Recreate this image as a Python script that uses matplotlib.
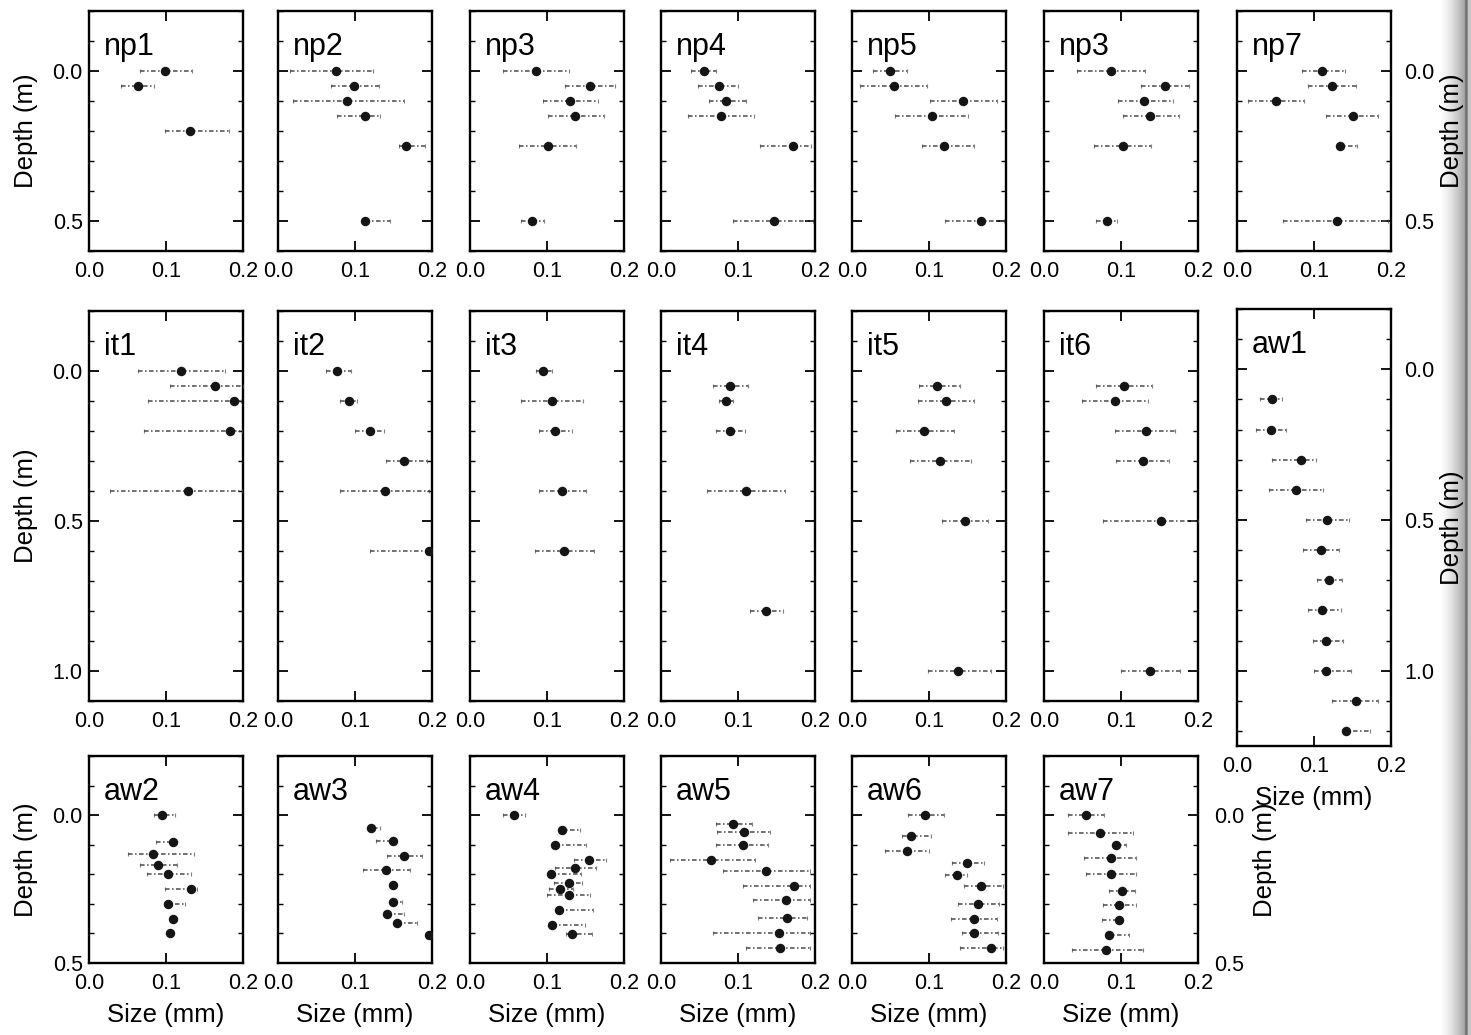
import numpy as np
import matplotlib
matplotlib.use("Agg")
import matplotlib.pyplot as plt
from matplotlib.ticker import MultipleLocator, FixedLocator, FormatStrFormatter

plt.rcParams['font.family'] = ['Liberation Sans', 'DejaVu Sans']

# ---------------- data (size in mm, depth in m) ----------------
np1_depth = [0.0, 0.05, 0.2]
np1_size = [0.099, 0.063, 0.131]
np1_lo = [0.066, 0.042, 0.099]
np1_hi = [0.134, 0.084, 0.182]

np2_depth = [0.0, 0.05, 0.1, 0.15, 0.25, 0.5]
np2_size = [0.075, 0.099, 0.090, 0.113, 0.166, 0.113]
np2_lo = [0.015, 0.069, 0.019, 0.077, 0.157, 0.113]
np2_hi = [0.123, 0.131, 0.163, 0.133, 0.191, 0.146]

np3_depth = [0.0, 0.05, 0.1, 0.15, 0.25, 0.5]
np3_size = [0.086, 0.156, 0.130, 0.137, 0.101, 0.081]
np3_lo = [0.043, 0.124, 0.095, 0.101, 0.064, 0.066]
np3_hi = [0.129, 0.188, 0.166, 0.174, 0.138, 0.096]

np4_depth = [0.0, 0.05, 0.1, 0.15, 0.25, 0.5]
np4_size = [0.056, 0.075, 0.085, 0.078, 0.171, 0.147]
np4_lo = [0.039, 0.048, 0.062, 0.035, 0.129, 0.094]
np4_hi = [0.072, 0.100, 0.111, 0.121, 0.195, 0.198]

np5_depth = [0.0, 0.05, 0.1, 0.15, 0.25, 0.5]
np5_size = [0.049, 0.054, 0.144, 0.104, 0.119, 0.168]
np5_lo = [0.027, 0.010, 0.101, 0.056, 0.091, 0.121]
np5_hi = [0.071, 0.098, 0.188, 0.151, 0.158, 0.198]

np6_depth = [0.0, 0.05, 0.1, 0.15, 0.25, 0.5]
np6_size = [0.087, 0.157, 0.130, 0.138, 0.102, 0.082]
np6_lo = [0.043, 0.126, 0.096, 0.103, 0.065, 0.067]
np6_hi = [0.131, 0.188, 0.167, 0.175, 0.139, 0.095]

np7_depth = [0.0, 0.05, 0.1, 0.15, 0.25, 0.5]
np7_size = [0.111, 0.123, 0.050, 0.150, 0.134, 0.130]
np7_lo = [0.084, 0.092, 0.014, 0.116, 0.130, 0.060]
np7_hi = [0.140, 0.154, 0.087, 0.183, 0.156, 0.196]

it1_depth = [0.0, 0.05, 0.1, 0.2, 0.4]
it1_size = [0.119, 0.163, 0.188, 0.183, 0.129]
it1_lo = [0.063, 0.105, 0.076, 0.071, 0.027]
it1_hi = [0.176, 0.200, 0.197, 0.199, 0.199]

it2_depth = [0.0, 0.1, 0.2, 0.3, 0.4, 0.6]
it2_size = [0.077, 0.092, 0.119, 0.164, 0.139, 0.196]
it2_lo = [0.062, 0.080, 0.100, 0.140, 0.080, 0.120]
it2_hi = [0.095, 0.103, 0.138, 0.194, 0.196, 0.199]

it3_depth = [0.0, 0.1, 0.2, 0.4, 0.6]
it3_size = [0.095, 0.106, 0.110, 0.120, 0.122]
it3_lo = [0.086, 0.066, 0.089, 0.089, 0.084]
it3_hi = [0.107, 0.147, 0.132, 0.151, 0.161]

it4_depth = [0.05, 0.1, 0.2, 0.4, 0.8]
it4_size = [0.089, 0.085, 0.090, 0.110, 0.137]
it4_lo = [0.067, 0.075, 0.072, 0.060, 0.115]
it4_hi = [0.113, 0.094, 0.109, 0.161, 0.159]

it5_depth = [0.05, 0.1, 0.2, 0.3, 0.5, 1.0]
it5_size = [0.111, 0.122, 0.094, 0.114, 0.147, 0.138]
it5_lo = [0.087, 0.086, 0.057, 0.075, 0.117, 0.099]
it5_hi = [0.140, 0.159, 0.132, 0.155, 0.177, 0.180]

it6_depth = [0.05, 0.1, 0.2, 0.3, 0.5, 1.0]
it6_size = [0.104, 0.092, 0.132, 0.128, 0.152, 0.138]
it6_lo = [0.068, 0.049, 0.092, 0.094, 0.077, 0.100]
it6_hi = [0.140, 0.135, 0.170, 0.162, 0.200, 0.177]

aw1_depth = [0.1, 0.2, 0.3, 0.4, 0.5, 0.6, 0.7, 0.8, 0.9, 1.0, 1.1, 1.2]
aw1_size = [0.045, 0.044, 0.083, 0.077, 0.117, 0.109, 0.120, 0.111, 0.115, 0.115, 0.154, 0.141]
aw1_lo = [0.030, 0.025, 0.045, 0.042, 0.090, 0.086, 0.104, 0.092, 0.099, 0.100, 0.123, 0.136]
aw1_hi = [0.059, 0.063, 0.103, 0.112, 0.145, 0.133, 0.137, 0.135, 0.138, 0.148, 0.183, 0.173]

aw2_depth = [0.0, 0.09, 0.133, 0.167, 0.2, 0.25, 0.3, 0.35, 0.4]
aw2_size = [0.095, 0.109, 0.083, 0.089, 0.103, 0.132, 0.103, 0.109, 0.105]
aw2_lo = [0.084, 0.087, 0.051, 0.066, 0.075, 0.099, 0.098, 0.109, 0.105]
aw2_hi = [0.112, 0.109, 0.136, 0.114, 0.132, 0.140, 0.125, 0.109, 0.105]

aw3_depth = [0.044, 0.086, 0.138, 0.185, 0.235, 0.295, 0.335, 0.365, 0.404]
aw3_size = [0.121, 0.149, 0.163, 0.140, 0.149, 0.149, 0.141, 0.155, 0.196]
aw3_lo = [0.118, 0.127, 0.142, 0.110, 0.149, 0.149, 0.141, 0.155, 0.196]
aw3_hi = [0.133, 0.152, 0.187, 0.172, 0.149, 0.161, 0.163, 0.180, 0.199]

aw4_depth = [0.0, 0.051, 0.10, 0.152, 0.18, 0.2, 0.231, 0.25, 0.269, 0.321, 0.372, 0.402]
aw4_size = [0.057, 0.120, 0.110, 0.155, 0.137, 0.105, 0.128, 0.117, 0.128, 0.115, 0.107, 0.133]
aw4_lo = [0.043, 0.116, 0.110, 0.135, 0.111, 0.105, 0.109, 0.102, 0.100, 0.115, 0.107, 0.125]
aw4_hi = [0.071, 0.143, 0.151, 0.176, 0.164, 0.144, 0.146, 0.134, 0.156, 0.160, 0.149, 0.159]

aw5_depth = [0.03, 0.057, 0.10, 0.15, 0.188, 0.238, 0.288, 0.349, 0.40, 0.45]
aw5_size = [0.094, 0.108, 0.106, 0.065, 0.136, 0.173, 0.162, 0.164, 0.153, 0.154]
aw5_lo = [0.071, 0.073, 0.071, 0.012, 0.081, 0.107, 0.119, 0.126, 0.068, 0.110]
aw5_hi = [0.118, 0.142, 0.139, 0.122, 0.193, 0.193, 0.193, 0.190, 0.193, 0.193]

aw6_depth = [0.0, 0.071, 0.122, 0.162, 0.201, 0.24, 0.30, 0.35, 0.40, 0.448]
aw6_size = [0.095, 0.077, 0.071, 0.149, 0.136, 0.168, 0.164, 0.158, 0.158, 0.181]
aw6_lo = [0.073, 0.065, 0.043, 0.130, 0.121, 0.145, 0.138, 0.129, 0.143, 0.140]
aw6_hi = [0.119, 0.103, 0.100, 0.171, 0.150, 0.196, 0.191, 0.188, 0.190, 0.196]

aw7_depth = [0.0, 0.06, 0.10, 0.144, 0.2, 0.255, 0.304, 0.354, 0.404, 0.455]
aw7_size = [0.055, 0.073, 0.094, 0.087, 0.087, 0.101, 0.098, 0.097, 0.085, 0.080]
aw7_lo = [0.031, 0.031, 0.089, 0.052, 0.055, 0.084, 0.077, 0.075, 0.080, 0.037]
aw7_hi = [0.078, 0.115, 0.107, 0.119, 0.119, 0.118, 0.119, 0.101, 0.111, 0.128]

panel_names = ["np1", "np2", "np3", "np4", "np5", "np3", "np7",
               "it1", "it2", "it3", "it4", "it5", "it6", "aw1",
               "aw2", "aw3", "aw4", "aw5", "aw6", "aw7"]
size_ticks = [0.0, 0.1, 0.2]
size_tick_labels = ["0.0", "0.1", "0.2"]
depth_ticks = [0.0, 0.5, 1.0]

panel_data = [
    (np1_depth, np1_size, np1_lo, np1_hi), (np2_depth, np2_size, np2_lo, np2_hi),
    (np3_depth, np3_size, np3_lo, np3_hi), (np4_depth, np4_size, np4_lo, np4_hi),
    (np5_depth, np5_size, np5_lo, np5_hi), (np6_depth, np6_size, np6_lo, np6_hi),
    (np7_depth, np7_size, np7_lo, np7_hi),
    (it1_depth, it1_size, it1_lo, it1_hi), (it2_depth, it2_size, it2_lo, it2_hi),
    (it3_depth, it3_size, it3_lo, it3_hi), (it4_depth, it4_size, it4_lo, it4_hi),
    (it5_depth, it5_size, it5_lo, it5_hi), (it6_depth, it6_size, it6_lo, it6_hi),
    (aw1_depth, aw1_size, aw1_lo, aw1_hi),
    (aw2_depth, aw2_size, aw2_lo, aw2_hi), (aw3_depth, aw3_size, aw3_lo, aw3_hi),
    (aw4_depth, aw4_size, aw4_lo, aw4_hi), (aw5_depth, aw5_size, aw5_lo, aw5_hi),
    (aw6_depth, aw6_size, aw6_lo, aw6_hi), (aw7_depth, aw7_size, aw7_lo, aw7_hi),
]

# ---------------- layout (pixels) ----------------
W, H = 1471, 1035
fig = plt.figure(figsize=(W / 100, H / 100), dpi=100)
fig.patch.set_facecolor("white")

# scanner shadow at the right edge
shade = fig.add_axes([1438 / W, 0, (W - 1438) / W, 1], zorder=0)
g = np.linspace(0, 1, 200)
vals = np.where(g < 0.82, 1 - 0.36 * (g / 0.82) ** 1.6, 0.0)
vals = np.where((g >= 0.82) & (g < 0.9), 0.45, vals)
vals = np.where(g >= 0.9, 0.78, vals)
shade.imshow(np.tile(vals, (10, 1)), aspect="auto", cmap="gray", vmin=0, vmax=1,
             extent=[0, 1, 0, 1], interpolation="bilinear")
shade.set_axis_off()

col_left = [89, 278, 470, 661, 852, 1044, 1237]
col_w = 154
rows = {1: (11, 251), 2: (311, 701), 3: (756, 963)}
row_ylim = {1: (0.6, -0.2), 2: (1.1, -0.2), 3: (0.5, -0.2)}

TICK_FS = 15.5
LABEL_FS = 18.5
NAME_FS = 22

for i, name in enumerate(panel_names):
    depth, size, lo, hi = (np.asarray(a, float) for a in panel_data[i])
    if i < 7:
        row, col = 1, i
    elif i < 14:
        row, col = 2, i - 7
    else:
        row, col = 3, i - 14
    top, bot = rows[row]
    ylim = row_ylim[row]
    if name == "aw1":
        top, bot = 309, 746
        ylim = (1.25, -0.2)
    L = col_left[col]
    ax = fig.add_axes([L / W, 1 - bot / H, col_w / W, (bot - top) / H], zorder=1)
    ax.set_xlim(0.0, 0.2)
    ax.set_ylim(*ylim)

    eb = ax.errorbar(size, depth, xerr=[size - lo, hi - size], fmt="o", ms=5.8,
                     mfc="#151515", mec="#151515", ecolor="#4a4a4a",
                     elinewidth=1.1, capsize=1.5, capthick=0.8, zorder=3)
    for lc in eb[2]:
        lc.set_linestyle((0, (3.0, 1.6, 1.0, 1.6)))
    for cl in eb[1]:
        cl.set_alpha(0.7)

    ax.xaxis.set_major_locator(FixedLocator(size_ticks))
    ax.set_xticklabels(size_tick_labels)
    ax.yaxis.set_major_locator(FixedLocator(depth_ticks))
    ax.yaxis.set_minor_locator(MultipleLocator(0.1))
    ax.yaxis.set_major_formatter(FormatStrFormatter("%.1f"))

    left_lab = col == 0
    right_lab = name in ("np7", "aw1", "aw7")
    ax.tick_params(which="both", direction="in", top=True, right=True,
                   labelleft=left_lab, labelright=right_lab, labelbottom=True)
    ax.tick_params(which="major", length=7, width=1.3, labelsize=TICK_FS)
    ax.tick_params(axis="x", which="major", pad=7.5)
    ax.tick_params(axis="y", which="major", pad=4.5)
    if right_lab:
        ax.tick_params(axis="y", which="major", pad=11.5 if name == "aw7" else 9.5)
    ax.tick_params(which="minor", length=3.5, width=1.0)
    for sp in ax.spines.values():
        sp.set_linewidth(1.7)

    if left_lab:
        ax.set_ylabel("Depth (m)", fontsize=LABEL_FS)
        ax.yaxis.set_label_coords(-0.33, 0.5)
    if right_lab:
        ax.yaxis.set_label_position("right")
        ax.set_ylabel("Depth (m)", fontsize=LABEL_FS)
        ax.yaxis.set_label_coords(1.36 if name == "aw7" else 1.315, 0.5)
    if row == 3 or name == "aw1":
        ax.set_xlabel("Size (mm)", fontsize=LABEL_FS, labelpad=6)

    ax.annotate(name, xy=(0, 1), xycoords="axes fraction", xytext=(15, -21),
                textcoords="offset pixels", ha="left", va="top", fontsize=NAME_FS)

fig.savefig("out.png", dpi=100, facecolor="white")
